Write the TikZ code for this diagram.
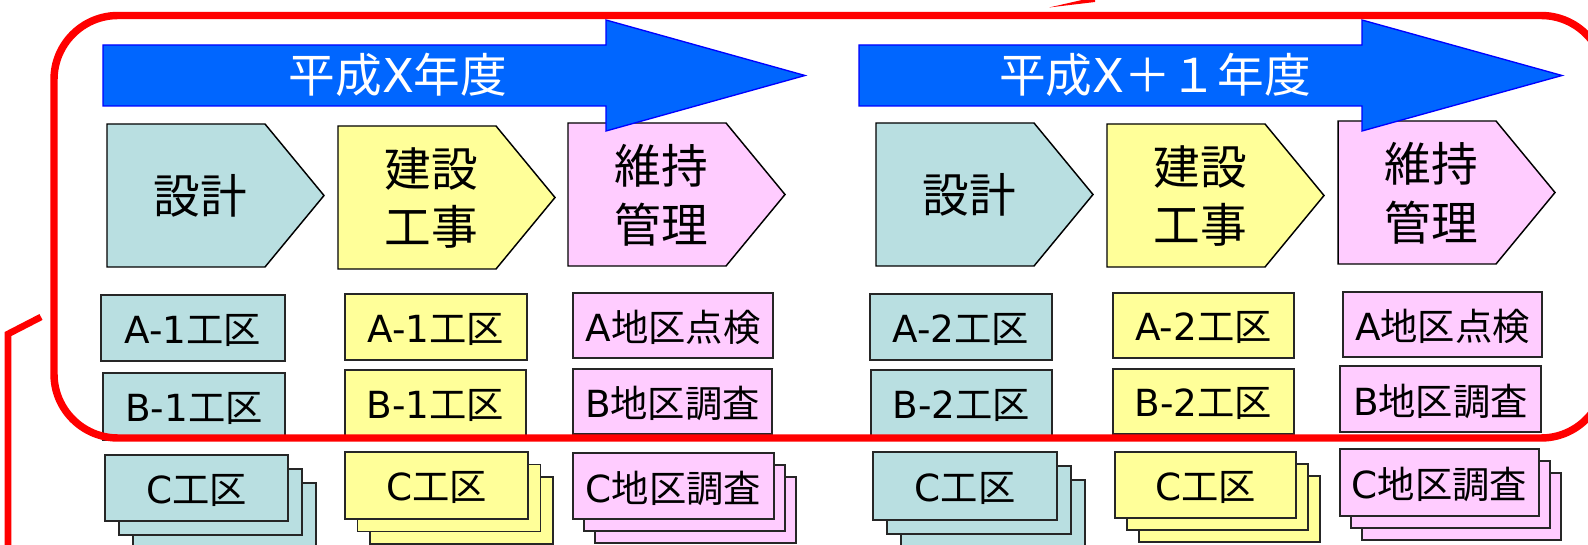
\documentclass[tikz,border=0pt]{standalone}
\usepackage{fontspec}
\setmainfont{Noto Sans CJK JP}
\newfontfamily\lat{DejaVu Sans}
\definecolor{tealc}{HTML}{B9DFE1}
\definecolor{yelc}{HTML}{FFFF99}
\definecolor{pinkc}{HTML}{FFCCFF}
\definecolor{bluef}{HTML}{0066FF}
\definecolor{blued}{HTML}{0000FF}
\definecolor{redc}{HTML}{FF0000}
\tikzset{
 pentshape/.style={draw=black, line width=1.1pt},
 boxshape/.style={draw=black!85, line width=1.4pt},
 ptext/.style={font=\fontsize{35}{44}\selectfont, align=center, inner sep=0pt},
 btext/.style={font=\fontsize{28}{34}\selectfont, inner sep=0pt, yshift=-1.5pt},
 atext/.style={font=\fontsize{35}{42}\selectfont, text=white, inner sep=0pt},
 yeararrow/.style={fill=bluef, draw=blued, line width=1pt},
 redline/.style={draw=redc, line width=5.6pt},
}
\newcommand\pentnode[5]{%
 \path[pentshape, fill=#4] (#2,#3) -- ++(158,0) -- ++(59,71.5) -- ++(-59,71.5) -- ++(-158,0) -- cycle;
 \node[ptext] (#1) at ({#2+93},{#3+72}) {#5};}
\newcommand\boxnode[7]{%
 \path[boxshape, fill=#6] (#2,#3) rectangle (#4,#5);
 \node[btext] (#1) at ({(#2+#4)/2},{(#3+#5)/2}) {#7};}
\newcommand\stacknode[9]{%
 \path[boxshape, fill=#6] ({#2+2*#8},{#3+2*#9}) rectangle ({#4+2*#8},{#5+2*#9});
 \path[boxshape, fill=#6] ({#2+#8},{#3+#9}) rectangle ({#4+#8},{#5+#9});
 \path[boxshape, fill=#6] (#2,#3) rectangle (#4,#5);
 \node[btext] (#1) at ({(#2+#4)/2},{(#3+#5)/2}) {#7};}
\begin{document}
\begin{tikzpicture}[x=0.75pt, y=-0.75pt]
\useasboundingbox (0,0) rectangle (1588,545);
% phase pentagons
\pentnode{p1}{107}{124}{tealc}{設計}
\pentnode{p2}{338}{126}{yelc}{建設\\工事}
\pentnode{p3}{568}{123}{pinkc}{維持\\管理}
\pentnode{p4}{876}{123}{tealc}{設計}
\pentnode{p5}{1107}{124}{yelc}{建設\\工事}
\pentnode{p6}{1338}{121}{pinkc}{維持\\管理}
% year arrows
\path[yeararrow] (103,45) -- (606,45) -- (606,20) -- (805,75.5) -- (606,131) -- (606,106) -- (103,106) -- cycle;
\path[yeararrow] (859,45) -- (1362,45) -- (1362,20) -- (1562,75.5) -- (1362,131) -- (1362,106) -- (859,106) -- cycle;
\node[atext] (y1) at (398,75) {平成{\lat X}年度};
\node[atext] (y2) at (1155,75) {平成{\lat X}＋１年度};
% row A
\boxnode{a1}{101}{295}{285}{361}{tealc}{{\lat A-1}工区}
\boxnode{a2}{345}{294}{527}{360}{yelc}{{\lat A-1}工区}
\boxnode{a3}{573}{293}{773}{358}{pinkc}{{\lat A}地区点検}
\boxnode{a4}{870}{294}{1052}{360}{tealc}{{\lat A-2}工区}
\boxnode{a5}{1113}{293}{1294}{358}{yelc}{{\lat A-2}工区}
\boxnode{a6}{1343}{292}{1542}{357}{pinkc}{{\lat A}地区点検}
% row B
\boxnode{b1}{103}{373}{285}{440}{tealc}{{\lat B-1}工区}
\boxnode{b2}{345}{370}{526}{436}{yelc}{{\lat B-1}工区}
\boxnode{b3}{573}{369}{772}{434}{pinkc}{{\lat B}地区調査}
\boxnode{b4}{871}{370}{1052}{436}{tealc}{{\lat B-2}工区}
\boxnode{b5}{1113}{369}{1294}{434}{yelc}{{\lat B-2}工区}
\boxnode{b6}{1340}{366}{1541}{432}{pinkc}{{\lat B}地区調査}
% row C stacks
\stacknode{c1}{105}{455}{288}{521}{tealc}{{\lat C}工区}{14}{14}
\stacknode{c2}{345}{452}{528}{519}{yelc}{{\lat C}工区}{12.5}{12.5}
\stacknode{c3}{573}{453}{774}{519}{pinkc}{{\lat C}地区調査}{11}{12}
\stacknode{c4}{873}{452}{1057}{520}{tealc}{{\lat C}工区}{14}{14}
\stacknode{c5}{1115}{452}{1296}{518}{yelc}{{\lat C}工区}{12}{12}
\stacknode{c6}{1340}{449}{1539}{516}{pinkc}{{\lat C}地区調査}{11}{12}
% red outline
\draw[redline, rounded corners=48pt] (54,15.5) rectangle (1605,438);
\coordinate (l1) at (41,317);
\coordinate (l2) at (8,334);
\coordinate (l3) at (8,560);
\draw[redline, line width=5pt] (l1) -- (l2) -- (l3);
\fill[redc] (1049,7.5) -- (1095,-3) -- (1095,2) -- cycle;
\end{tikzpicture}
\end{document}
